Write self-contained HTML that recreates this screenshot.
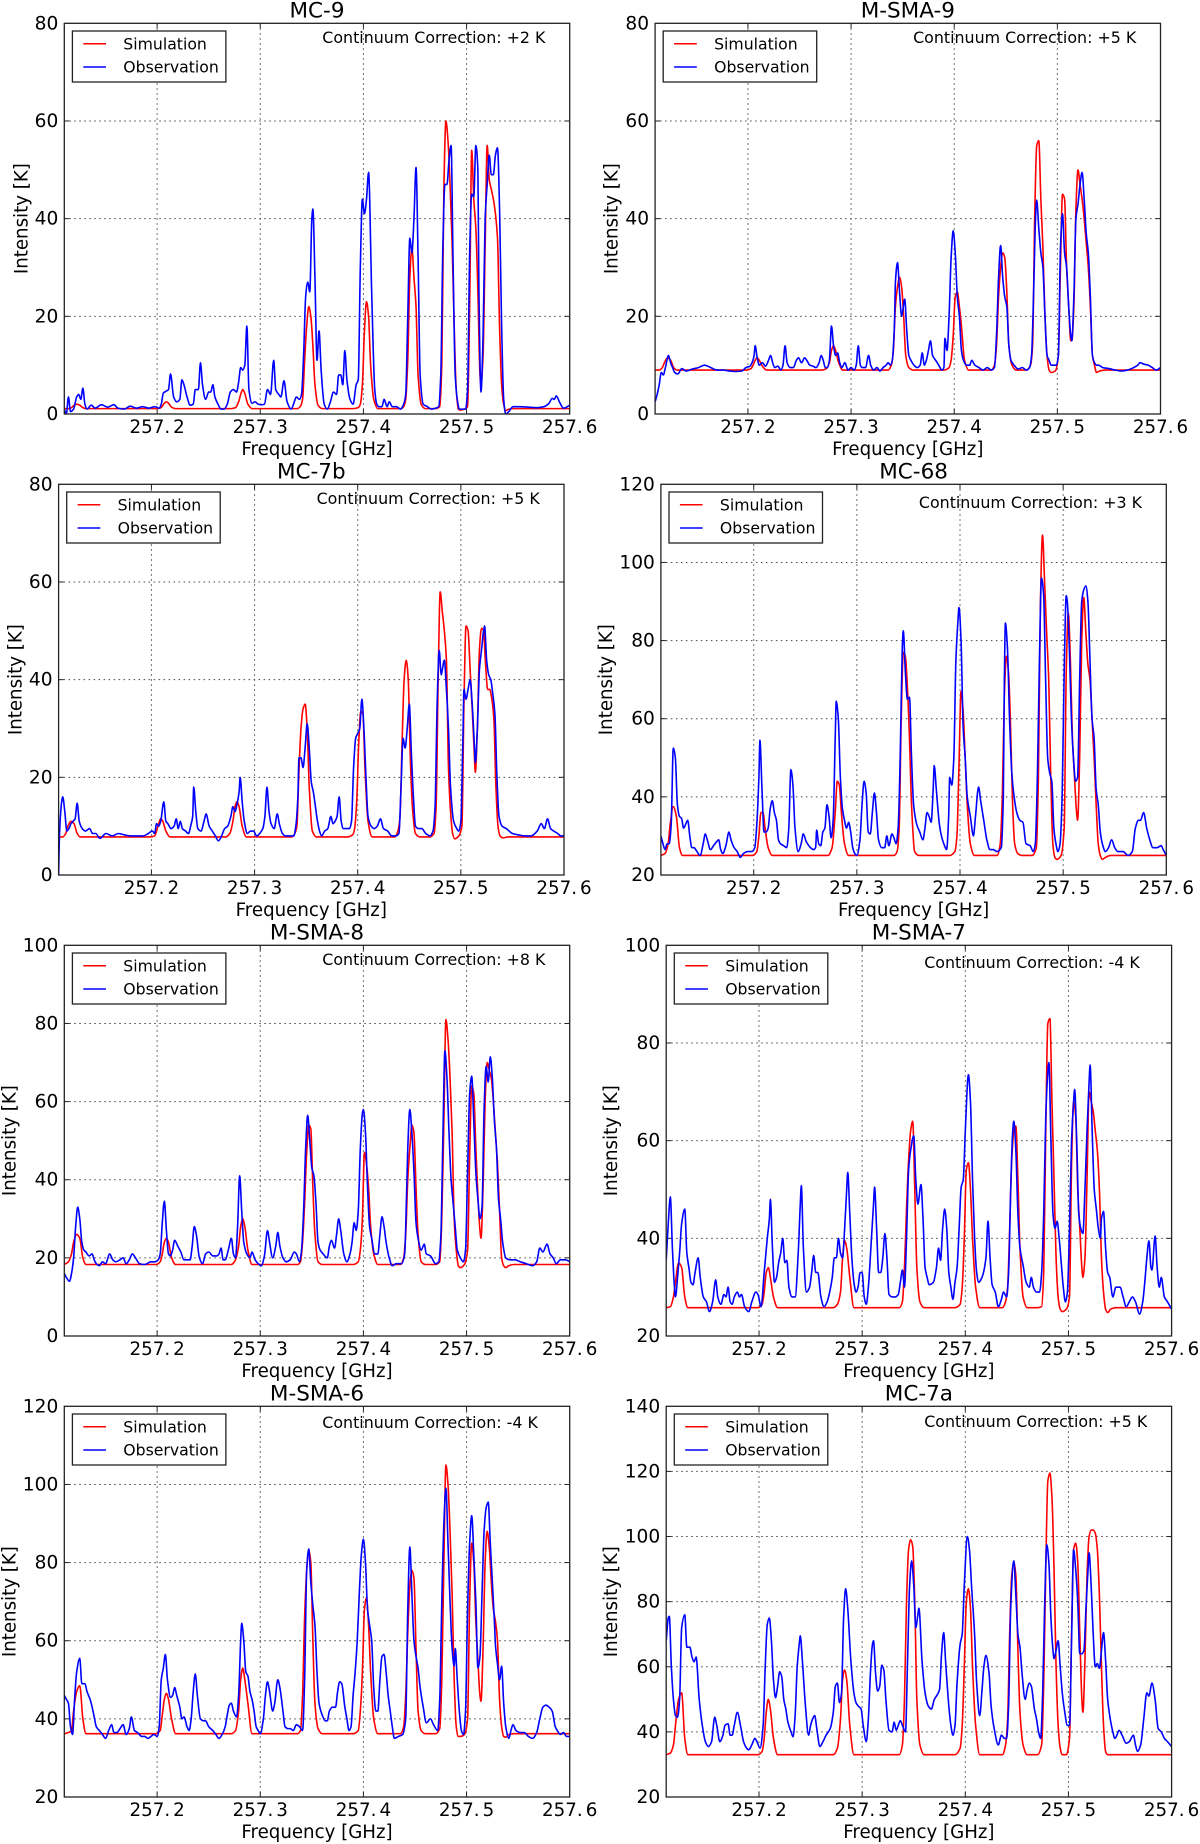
<!DOCTYPE html>
<html lang="en">
<head>
<meta charset="utf-8">
<title>Simulation and observation spectra</title>
<style>
html,body{margin:0;padding:0;background:#fff;}
svg{display:block;font-family:"DejaVu Sans","Liberation Sans",sans-serif;fill:#000;filter:blur(0.35px);}
</style>
</head>
<body>
<svg id="chart" xmlns="http://www.w3.org/2000/svg" width="1200" height="1844" viewBox="0 0 1200 1844"></svg>
<script>
// Frequencies are MHz above 257 GHz.
const xTicks=[257.2,257.3,257.4,257.5,257.6];
const panelTitles=["MC-9","M-SMA-9","MC-7b","MC-68","M-SMA-8","M-SMA-7","M-SMA-6","MC-7a"];
const corrections=["+2 K","+5 K","+5 K","+3 K","+8 K","-4 K","-4 K","+5 K"];
const yTicks1=[0,20,40,60,80];
const yTicks2=[0,20,40,60,80];
const yTicks3=[0,20,40,60,80];
const yTicks4=[20,40,60,80,100,120];
const yTicks5=[0,20,40,60,80,100];
const yTicks6=[20,40,60,80,100];
const yTicks7=[20,40,60,80,100,120];
const yTicks8=[20,40,60,80,100,120,140];

const simFreq=[
110,114,117,119,122,125,128,131,
199,203,205,207,209,211,214,218,
272,276,279,281,283,285,288,292,
336,339,341,343,345,347,349,351,353,356,360,
390,395,397,399,401,403,405,407,410,414,
436,439,441,443,445,447,449,451,453,456,460,
470,474,476,478,480,482,484,486,488,490,492,494,498,
501,503,505,507,509,511,513,514,516,518,520,522,524,526,528,530,532,534,536,538,541,546,600];

const sim1=[
1.1,1.1,1.3,1.7,2,1.8,1.3,1.1,
1.1,1.2,1.6,2.2,2.5,2.2,1.4,1.1,
1.1,1.3,2.5,4,5,4.2,2,1.1,
1.1,1.6,3,11,18,22,20,14,6,1.8,1.1,
1.1,1.3,2,6,17,23,20,10,3,1.1,
1.1,1.5,3,11,28,34,28,22,8,2,1.1,
1.1,1.5,10,46,60,56,47,35,18,5,1,0.8,1,
1.5,22,54,44,38,25,8,6,12,34,55,48,46,44,41,36,18,6,2,0.7,1,1.1,1.1];
const sim2=[
9,9,9.5,10.5,11.5,11,9.5,9,
9,9.3,10,11,11.5,11,9.8,9,
9,9.3,10.5,13,14,13,10.5,9,
9,10,13,22,26,28,26,20,12,9.5,9,
9,9.5,11,16,24,25,22,18,11,9,
9,10,14,24,30,33,32,25,14,10,9,
9,10,14,40,55,56,44,34,20,12,9,8.5,8.8,
12,30,45,44,30,22,15,15,22,42,50,47,44,40,35,30,22,12,10,8.5,8.8,9,9];
const sim3=[
7.8,7.8,8.5,10,11,10.5,8.5,7.8,
7.8,8,9,10.5,11.5,11,9,7.8,
7.8,8.5,11,14,15,14,10,7.8,
7.8,8.5,10,21,30,34,35,30,18,9,7.8,
7.8,8.2,9.5,15,27,33.5,33,22,11,7.8,
7.8,9,12,27,40,44,40,24,14,8.5,7.8,
7.8,8.5,14,40,58,54,50,44,22,13,8.5,7.4,8,
10,35,51,50,42,34,25,21,30,46,50.5,50,43,38,38,36,32,18,10,8,7.6,7.8,7.8];
const sim4=[
25,25.5,28,33,37.5,35,27,25,
25,26,30,36,36,32,27,25,
25,27,36,44,43,36,28,25,
25,26,32,60,77,76,68,55,38,26,25,
25,26,30,48,67,62,50,38,28,25,
25,28,40,66,76,72,58,38,28,25.5,25,
25,27,45,90,107,95,82,70,45,28,24.5,24,25,
32,72,87,75,55,45,36,34,50,80,91,82,74,70,60,50,38,28,25,24,24.5,25,25];
const sim5=[
18.3,19,21,24,26,25,20,18.3,
18.3,19,21,24,25,24,20,18.3,
18.3,19.5,23,28,30,28,22,18.3,
18.3,19,24,34,47,54,53,38,26,19,18.3,
18.3,19,22,30,47,44,38,28,21,18.3,
18.3,20,26,40,48,54,52,38,26,19,18.3,
18.3,19,30,55,81,76,66,52,30,22,18,17.5,18.3,
22,46,64,62,48,36,27,25,38,60,70,68,66,60,52,44,32,20,18,17.5,18,18.3,18.3];
const sim6=[
25.8,26,28,31,35,34,28,25.8,
25.8,26.5,29,33,34,32,28,25.8,
25.8,26.5,29,36,39.5,38,32,25.8,
25.8,27,34,46,56,62,64,50,34,27,25.8,
25.8,26.5,30,40,54,55.5,50,40,30,25.8,
25.8,27,30,42,56,62,63,52,38,28,25.8,
25.8,26,33,62,84,85,68,52,36,28,25.5,25,25.5,
28,55,68,65,50,42,34,32,36,52,70,68,66,62,58,50,36,29,25.5,24.8,25.5,25.8,25.8];
const sim7=[
36.2,36.5,37,42,47,48.5,40,36.2,
36.2,37,41,45,46.5,45,40,36.2,
36.2,37,42,50,53,50,44,36.2,
36.2,37,46,66,78,83,80,60,44,37.5,36.2,
36.2,37,42,52,68,71,64,52,40,36.2,
36.2,38,46,62,74,78,76,58,42,37,36.2,
36.2,37.5,50,80,105,100,88,72,50,38,35.5,35.5,36,
40,70,85,80,65,55,46,44.5,58,80,88,84,75,68,65,60,45,38,35.5,35.3,36,36.2,36.2];
const sim8=[
33,33.5,36,42,50,52,38,33,
33,34,38,46,50,47,38,33,
33,35,44,56,59,56,42,33,
33,36,50,80,96,99,97,80,50,36,33,
33,35,42,60,80,84,78,60,42,33,
33,36,44,70,88,92,88,65,46,36,33,
33,36,55,90,117,119.5,112,90,60,42,35,33,33,
38,70,96,98,92,70,50,46,62,88,100,102,102,101,96,82,60,42,34,33,33,33,33];

const obsFreq1=[
110,112,114,116,119,122,124,126,128,130,
132,136,140,146,152,158,162,168,174,180,
186,192,198,202,204,206,209,211,213,216,
219,222,224,226,229,232,235,237,240,242,
244,247,250,252,254,256,259,262,265,268,
271,274,277,279,281,283,285,287,289,292,
295,298,301,304,307,310,313,315,318,320,
323,326,330,333,335,338,340,342,344,346,
348,350,351,353,355,357,359,362,365,368,
371,374,376,378,380,382,384,387,390,393,
395,397,399,401,403,405,408,411,413,415,
418,420,423,425,428,432,436,439,441,443,
445,447,449,451,453,455,458,462,466,470,
473,475,477,479,481,483,485,487,489,491,
493,496,499,501,503,505,507,509,511,512,
514,516,518,520,522,524,526,528,530,532,
534,536,538,541,545,552,560,568,575,580,
583,585,587,590,594,600];
const obsVal1=[
1,0,3.5,0.5,1,3.5,4,3,5.3,2,
1,1.8,1.2,1.9,1.4,1.9,1.2,1,1.6,1.2,
1.5,1.2,1.5,1.2,2,4.3,4.7,5,8.2,3.5,
2.5,3,7,6,3.5,1.8,2,5,5,10.5,
6,3,4.5,4.5,6,3.5,2,1,1,2,
4.5,5,4.5,6.5,9.5,9,10,18,5,2.2,
2.5,2,1.9,2,5,4,11,5,4,3.5,
6.8,2.5,1,2.5,3.5,3,4,12,24,27,
25,40,42,28,11,17,9,2,1,2.5,
4.5,4,8,8,6,13,7,3,2,6,
7,30,44,41,44,49.5,25,5,2,1.5,
1.5,3,1.5,2.5,1.5,1.5,1,2,4,20,
36,33,40,50.5,32,8,2,1.5,1,1.2,
1.5,8,34,47,47,52,55,30,8,3,
1,1,1,5,33,45,44.5,55,50,25,
4.5,16,40,47,53,49,49,53,54.5,42,
18,3,0,0.5,1.5,1.5,1.4,1.3,1.5,2.2,
3.2,3,3.7,2.5,1.2,1.8];

const obsFreq2=[
110,112,114,116,118,120,123,125,127,129,
132,136,140,146,152,158,164,170,176,182,
188,194,198,202,204,206,207,209,211,214,
217,220,222,224,226,229,232,234,236,238,
241,244,247,249,252,255,257,260,263,266,
269,271,273,275,277,279,281,283,285,287,
289,291,294,297,300,303,305,307,309,311,
314,317,319,322,325,328,331,334,336,338,
340,342,343,345,347,349,350,352,354,356,
358,361,364,367,369,371,373,375,377,379,
382,385,388,390,391,393,395,397,399,401,
403,405,407,409,412,415,417,420,424,428,
432,436,439,441,443,445,447,449,451,453,
455,458,462,466,470,473,475,477,479,480,
482,484,486,488,490,492,494,497,499,501,
503,505,507,509,511,513,514,516,518,520,
522,524,526,528,530,532,534,536,538,540,
544,550,556,562,568,574,578,580,584,588,
592,596,600];
const obsVal2=[
2.5,4,6,8.5,8,9.5,12,10.5,9.5,8.5,
8.2,9.3,8.8,9.2,9.5,10,9.5,9,9,8.8,
8.7,8.8,9.5,9.8,10.5,12,14,11.5,10,10.5,
9.8,11,12,10.5,9.5,9.8,9,10,14,10.5,
9.5,9.5,11,11.5,10.5,11.5,11,10,9.8,9.5,
10.5,12,11,9.5,9.5,11,18,14,12,12.5,
10.5,9.5,10.5,9,9.5,9,10,14,10,9.5,
9.5,12,10,9,9.5,8.8,9.5,10,10.5,10,
11,18,27,31,25,20,21,23.5,17,12,
11,10,9.5,10,12.5,10,11,13,15,12,
11,10,9,9.5,15.5,13,20,32,37.5,33,
24,20,13,11,10,10,11,10,9.5,9,
9.5,9,9.5,16,28,34.5,28,24,22,14,
11,10,9.2,9.5,9,9.5,12,25,41,43.8,
38,33,30,20,12,11,10,10,10,12,
34,41,33,30,22,16,15,24,40,43,
47,49.5,44,37,33,24,12,10.5,10,10,
9.5,9.3,9,8.8,9,9.5,10,10.5,10.2,10,
9.5,9,9.5];

const obsFreq3=[
110,111,113,114,116,118,120,122,124,126,
128,130,133,136,140,143,146,150,156,162,
168,174,180,186,192,197,201,203,205,207,
209,212,214,216,219,222,224,226,228,230,
233,236,238,240,241,243,245,248,251,253,
256,259,262,265,268,271,274,277,279,281,
283,285,286,288,290,293,296,299,302,305,
308,310,312,314,316,319,322,324,327,330,
334,338,340,342,343,345,347,349,351,353,
355,357,359,361,363,365,368,371,374,376,
378,380,382,384,386,389,392,394,396,398,
400,402,404,406,408,410,413,416,419,422,
425,429,433,437,440,442,444,446,448,450,
452,454,456,459,462,466,470,473,475,477,
479,481,482,484,486,488,490,493,496,498,
500,502,503,505,507,509,511,513,514,516,
518,520,522,523,525,527,529,531,533,535,
537,540,544,550,556,562,568,574,578,581,
584,587,590,594,597,600];
const obsVal3=[
0,9,15,16,13,9,9.5,10.5,11,11.5,
14.7,11,9.5,9,9.5,8.5,8.5,7.5,8.5,8,
8.5,8.2,8,8,8,8.5,9,8.5,10.5,10,
11,15,11,10.5,9.5,10,11.5,9.5,11,9.5,
9,8.5,10,12,18,13,9.5,9,11,12.5,
10,9,8,7,8,9.5,10,12,14,13,
14.5,17,20,15,11,8.5,9,9,8,8.5,
9.5,12,18,13,10.5,9.5,12.5,10.5,8.5,8,
8,8,10,16,24,24,22,26,31,26,
19,17,14,11,9,8,9,9.5,12,10.5,
11,12,16,11,9.5,9.5,9.5,11,22,28,
29,30,36,30,20,12,10,9.5,10,11.5,
9.5,9,8,8,8.5,18,28,26,30,35,
25,16,10,9.5,9.5,8.5,8,9,14,35,
46,41,42,44,38,30,18,11,9.5,9,
11,28,38,36,38,40,35,27,23,30,
42,46,50,51,44,41,40,37,33,20,
12,10,9.5,8.5,8.2,8,8,9,10.5,9.5,
11.5,9.5,9,8.5,8,8];

const obsFreq4=[
110,112,114,116,118,120,122,124,126,128,
130,132,134,136,138,140,142,145,148,151,
153,155,158,161,164,166,168,170,173,176,
178,181,184,187,190,194,198,201,203,205,
206,208,210,212,214,216,218,220,222,224,
226,229,232,234,236,238,240,243,246,248,
251,255,258,260,261,263,265,267,269,271,
273,275,277,279,280,282,284,286,288,290,
292,294,296,298,300,303,305,307,309,311,
313,315,317,319,321,324,327,329,331,334,
336,338,340,342,344,345,347,349,351,353,
355,358,361,364,366,368,370,372,374,375,
377,380,382,385,387,389,390,392,394,396,
398,399,401,403,405,407,410,413,415,418,
420,423,426,429,432,436,440,442,443,444,
446,448,450,452,455,458,461,464,468,471,
473,475,477,479,481,483,485,487,489,491,
493,495,497,499,501,503,504,506,508,510,
512,514,516,518,520,522,524,526,528,530,
532,534,536,538,541,544,547,550,553,558,
563,567,570,573,575,578,581,584,587,591,
595,597,600];
const obsVal4=[
30,28,26.5,28,28,33,52.5,50,38,35,
34.5,32,33,34,30,27,27,26,25,28,
30.5,29,26.5,27.5,28.5,29,26.5,25.5,27.5,31,
29,27,26,24.5,25.5,26,26,27,33,45,
54.5,42,31,31,32,37,39,36,34,29,
28,27.5,27,32,47,43,32,26,28,30.5,
28.5,27,26.5,27,31.5,28,27.5,31,32,38,
35,29.5,34,55,64.5,60,45,37,34,32,
33.5,31,27,25.5,25,29,38,44,41,31,
30.5,36,41,36,29,27,27,30,27.5,30.5,
29.5,28,32,50,78,82.5,72,65,65.5,50,
38,33,31,29,32,36,35,33.5,42,48,
42,33,30,27.5,26.5,35,45,43,50,75,
85,88.5,80,58,50,40,35,30,35,42.5,
39,34,29,26.5,26.5,26,27,40,70,84.5,
78,60,47,41,36,34,33.5,28,27.5,26,
28,45,75,96,92,70,50,46,44,32,
28,26,28,40,72,91.5,90,78,60,50,
44,45,70,90,93,94,90,75,60,55,
42,38,31,28,26,27,29,27,26,26,
25,26,32,34,34,36,32,29,27,27,
27.5,26.5,25];

const obsFreq5=[
110,112,115,117,119,121,123,125,127,129,
131,134,137,139,141,144,147,150,154,157,
160,164,167,170,173,176,179,183,188,194,
198,201,203,205,207,209,211,213,215,217,
220,223,226,229,232,234,236,238,241,244,
247,250,254,258,260,262,264,266,269,272,
274,276,278,280,282,284,287,290,292,295,
298,301,304,307,309,312,315,317,319,322,
325,329,333,335,338,340,342,344,346,348,
350,352,354,356,358,361,365,367,369,372,
374,376,378,381,384,387,389,391,393,395,
397,399,400,402,404,406,408,411,414,416,
418,420,422,425,428,432,437,440,442,443,
445,447,449,451,453,456,459,461,465,470,
473,475,477,479,481,483,485,487,489,491,
494,497,499,501,503,505,507,509,511,513,
515,517,519,521,523,525,527,529,531,533,
535,538,542,547,552,558,564,568,571,574,
578,581,584,587,591,596,600];
const obsVal5=[
16,15,14,16,20,28,33,30,24,22,
21.5,20.5,21,19.5,18.5,18,19,18.5,21,19.5,
19,19.5,20,18.5,19.5,21,20,18.5,18.3,19,
19,19.5,21,29,34.5,27,21,20.5,22,24.5,
23,21.5,19.5,19.5,19.5,23,28,26,20,18.5,
21,21.5,20.5,20.5,21,22.5,19.5,19.5,22,25,
21,20,28,41,32,24,21,20,21.5,19.5,
18.5,18,20.5,27,24,20,23,26.5,23,20,
19,19.5,21.5,21,19,22,32,48,56.5,50,
43,41,34,24,22,21,20,23,24.5,22.5,
26,30,27,21,19,21,24,29,27,32,
48,57,58,52,38,28,25,21,21,26,
30.5,28,24,20,18,18.5,18.5,21,38,48,
58,52,42,29,25,22,23.5,21,20.5,18.5,
19,25,50,73,66,52,40,34,28,22,
20,19,22,42,62,66.5,55,42,35,30,
33,58,69,65,71.5,66,55,48,35,30,
24,20,19.5,19.5,19,18.5,18,19,22.5,21.5,
23.5,21,20,18.5,19.5,19.5,19];

const obsFreq6=[
110,112,114,116,118,119,121,123,125,128,
130,132,134,136,138,141,143,146,149,152,
155,158,160,163,166,168,170,172,174,176,
179,181,183,186,190,193,197,199,202,205,
208,210,211,213,215,217,219,221,223,225,
227,229,232,235,238,240,241,243,246,249,
251,253,255,257,260,263,266,269,271,273,
275,277,279,281,283,285,286,288,290,292,
294,296,298,300,302,304,306,309,311,312,
314,316,318,320,322,324,326,329,332,335,
337,339,341,343,345,347,350,352,354,357,
359,361,363,365,369,372,374,376,378,380,
382,384,386,388,390,392,394,396,398,400,
403,405,407,409,411,413,415,417,420,422,
424,426,429,432,435,437,440,442,444,446,
447,449,451,453,456,459,462,464,466,469,
472,474,476,478,480,481,483,485,487,489,
491,493,495,497,499,501,503,505,506,508,
510,512,514,516,518,520,521,523,525,527,
529,531,532,534,536,538,540,543,546,550,
553,556,559,562,565,569,572,574,576,578,
580,581,584,586,588,590,593,596,600];
const obsVal6=[
35.6,43,48.5,38,30,28,32,37,43,46,
37,34,31,30.5,33,36,32,28,27,25,
27,31.5,28,26.5,28.5,28,30,27,26.5,28,
29,28,28.5,26,25,27,29,28.5,26,33,
40,44,48,38,31,32,35,37,40,35,
35.5,30,28,28,37,47,50.8,38,29,30,
33,36.5,33,33,28,26,27,29.5,32,36,
36,40,37,36,42,50,53.5,45,36,31,
29,30,33,33,28,26.5,30,40,47,50.5,
42,33,33,36,41,36,28.5,28,28,28.5,
31,33.5,30,40,54,58,61,52,47,51,
44,34,32,30.5,31,34,38,35.5,42,46,
42,33,30,27.5,31,34,42,50.5,52,62,
73.5,68,52,40,33,31,31.5,32.5,36,43.5,
36,30.5,29,26,27.5,29,28,33,50,62,
64,58,45,38,34.5,31,30,32,30,29,
29,33,45,65,74,76,60,45,42,43.5,
40,35,30,27,29,42,60,68,70.5,60,
45,42,41,50,62,72,75.5,62,50,46,
42,40,44,45.5,38,33,32,28,30,30,
28,26,27,28,27,24.5,27,31,36,39.5,
34,33.5,40.5,34,30,32,28,27,25.5];

const obsFreq7=[
110,112,114,116,118,120,122,125,127,130,
132,135,137,139,141,144,147,150,153,156,
158,161,164,167,170,173,175,178,181,185,
188,191,194,197,200,202,204,206,208,210,
213,215,217,219,222,224,226,229,231,233,
235,237,239,242,245,247,250,254,257,260,
263,266,268,270,272,274,277,279,281,282,
284,286,288,290,292,294,296,298,300,303,
305,307,309,312,314,317,319,322,324,327,
329,332,335,338,341,343,345,347,349,351,
353,355,357,360,363,365,367,370,373,375,
377,379,382,384,386,388,390,392,394,396,
398,400,402,404,406,408,410,412,414,416,
418,420,422,424,426,428,430,434,438,441,
443,445,447,449,451,453,455,458,461,465,
468,472,474,476,478,480,482,484,486,488,
489,491,493,495,497,499,501,503,505,507,
509,511,513,515,517,519,521,523,525,527,
528,530,532,534,536,538,541,543,545,548,
552,556,560,564,568,571,574,577,580,583,
586,588,591,594,597,600];
const obsVal7=[
46,45,44,38,36,45,52,55.5,49,49,
47,45,43,40.5,38,37,36,35,37,38.5,
36.5,36.5,37.5,38.5,36,37.5,40.5,37,36.5,35.5,
35.5,35,35.5,36,35.5,38,50,53,56.5,50,
45.5,46,48,46,43,40,40.5,38,37,40,
47,51.5,46,40,39.5,39.5,38,37,36,35,
36,38,41,43.5,44,42,40.5,46,60,64.5,
60,52,51,47,45,42,38,37,36.2,40,
46,49.5,47,42,44,50,48,42,38,37.5,
37.5,37,38.5,38,37,50,78,83.5,75,69,
64,52,44,41,39.5,39.5,42,43,43,47,
49.5,49,43,40,37,38,46,52,60,72,
82,86,80,68,64,60,48,42,42,50,
56,56.5,52,46,42,38,35,35.5,36,40,
68,84,72,60,56,53,48,43,39,40,
38.5,37,45,70,90,99,85,70,58,53.5,
58,50,42,37,36,42,68,85,92,82,
70,53,56,72,88,94,95.5,85,75,65,
59,54,50,53.5,44,38,35,37,38.5,37,
36.5,36.5,35.5,35,36.5,40,43,43.5,43,42,
38,37,36,36.5,35.5,35.5];

const obsFreq8=[
110,112,113,115,117,119,121,123,125,128,
130,133,135,137,139,142,145,148,151,154,
157,159,162,165,167,170,172,174,176,179,
182,185,188,190,193,196,198,201,204,206,
208,210,212,214,216,218,220,222,224,226,
228,231,233,235,237,239,240,242,245,248,
250,252,254,256,259,262,265,269,272,274,
276,278,280,282,284,286,289,292,294,296,
299,301,304,306,308,310,311,313,315,317,
319,321,323,326,329,331,333,335,337,339,
342,344,346,348,350,352,354,355,358,361,
364,367,370,372,375,377,379,381,384,386,
388,390,392,395,397,399,402,404,406,409,
411,414,416,418,420,423,425,428,432,435,
438,440,442,444,447,449,451,453,455,458,
460,462,464,467,469,471,473,475,477,479,
481,483,485,486,488,490,492,494,496,499,
501,503,505,507,509,511,513,515,517,519,
520,522,524,526,528,530,532,534,536,538,
540,543,545,547,549,552,556,559,563,565,
567,570,573,576,578,581,584,587,590,593,
596,600];
const obsVal8=[
68,75,75.5,60,50,45,44.5,50,72,76,
66,66,63,61.5,63,50,42,37,35.5,37,
44.5,42,37,39,42,42.5,39,39,42,46,
42,37,35,34.5,36,38,37,35,42,60,
73,75,68,56,50.5,54,58.5,57,50,47,
43,40,38.5,45,60,67,69.5,62,48,39,
42,44,45,41,35.5,37,39,41,46,54,
55,49,52,75,84,78,62,52,49,48,
47,42,37,44,58,67,68,58,52.5,54,
60.5,59,50,40.5,40,43,40.5,42,43.5,42,
40,62,85,92.5,85,72,76,78,62,52,
48,47,50,51,53,64,70.5,61,48,42,
39,42,55,67,70,85,100,96,85,70,
55,45,52,60,63.5,58,48,41,36,39,
38,38,48,78,92.5,82,70,66,58,50,
53,55,54,47,44,40,38,52,80,97.5,
92,75,65,62.5,65,68,60,52,47,42,
42,68,96,90,80,64,64,65,78,90,
95,85,70,60,61,59.5,65,70.5,62,50,
45,40,38,39,40.5,39,36.5,37,39,36,
34,36,44,52,51,55,50,41,40,38,
37,35.5];

const svgNS="http://www.w3.org/2000/svg";
const root=document.getElementById("chart");
const PLOT_W=505.4, PLOT_H=390.7, XMIN=257.11, XMAX=257.6;

function make(parent,tag,attrs,text){
  const el=document.createElementNS(svgNS,tag);
  for(const k in attrs){el.setAttribute(k,attrs[k]);}
  if(text!==undefined){el.textContent=text;}
  parent.appendChild(el);
  return el;
}
function xAxis(left){
  return function(ghz){return left+(ghz-XMIN)/(XMAX-XMIN)*PLOT_W;};
}
function yAxis(top,ymin,ymax){
  return function(v){return top+PLOT_H-(v-ymin)/(ymax-ymin)*PLOT_H;};
}
// Monotone cubic path through every data vertex, so peaks stay at their read values.
function pathFrom(freqs,vals,sx,sy){
  const n=Math.min(freqs.length,vals.length);
  const xs=[],ys=[];
  for(let i=0;i<n;i++){xs.push(sx(257+freqs[i]/1000));ys.push(sy(vals[i]));}
  const slopes=[];
  for(let i=0;i<n-1;i++){slopes.push((ys[i+1]-ys[i])/(xs[i+1]-xs[i]));}
  const m=[];
  for(let i=0;i<n;i++){
    if(i===0){m.push(slopes[0]);}
    else if(i===n-1){m.push(slopes[n-2]);}
    else if(slopes[i-1]*slopes[i]<=0){m.push(0);}
    else{m.push(2*slopes[i-1]*slopes[i]/(slopes[i-1]+slopes[i]));}
  }
  let d="M"+xs[0].toFixed(2)+" "+ys[0].toFixed(2);
  for(let i=0;i<n-1;i++){
    const h=(xs[i+1]-xs[i])/3;
    d+="C"+(xs[i]+h).toFixed(2)+" "+(ys[i]+m[i]*h).toFixed(2)+" "+(xs[i+1]-h).toFixed(2)+" "+(ys[i+1]-m[i+1]*h).toFixed(2)+" "+xs[i+1].toFixed(2)+" "+ys[i+1].toFixed(2);
  }
  return d;
}

const layouts=[
 {left:64.3,top:23.3,ylabelGap:43,noteGap:19.5},
 {left:655.1,top:23.3,ylabelGap:43.6,noteGap:19.5},
 {left:58.6,top:484.3,ylabelGap:43.3,noteGap:19.8},
 {left:660.9,top:484.3,ylabelGap:55,noteGap:23.8},
 {left:64.3,top:945.3,ylabelGap:55,noteGap:19.8},
 {left:666.2,top:945.3,ylabelGap:55,noteGap:22.5},
 {left:64.3,top:1406.3,ylabelGap:55,noteGap:21.5},
 {left:666.2,top:1406.3,ylabelGap:55,noteGap:20.8}
];
const yTickSets=[yTicks1,yTicks2,yTicks3,yTicks4,yTicks5,yTicks6,yTicks7,yTicks8];
const simSets=[sim1,sim2,sim3,sim4,sim5,sim6,sim7,sim8];
const obsFreqSets=[obsFreq1,obsFreq2,obsFreq3,obsFreq4,obsFreq5,obsFreq6,obsFreq7,obsFreq8];
const obsValSets=[obsVal1,obsVal2,obsVal3,obsVal4,obsVal5,obsVal6,obsVal7,obsVal8];

const defs=make(root,"defs",{});

layouts.forEach(function(L,p){
  const ticks=yTickSets[p];
  const ymin=ticks[0], ymax=ticks[ticks.length-1];
  const sx=xAxis(L.left), sy=yAxis(L.top,ymin,ymax);
  const right=L.left+PLOT_W, bottom=L.top+PLOT_H;
  const slug=panelTitles[p].toLowerCase();

  const g=make(root,"g",{});
  
  

  const clip=make(defs,"clipPath",{id:"clip"+p});
  make(clip,"rect",{x:L.left,y:L.top,width:PLOT_W,height:PLOT_H});

  const title=make(g,"text",{x:L.left+PLOT_W/2,y:L.top-6,"text-anchor":"middle","font-size":"21.5"},panelTitles[p]);
  
  

  // grid and ticks
  xTicks.forEach(function(t){
    const x=sx(t);
    if(t<XMAX){
      const gl=make(g,"line",{x1:x,x2:x,y1:L.top,y2:bottom,stroke:"#444","stroke-width":"1","stroke-dasharray":"1.5 3.5"});
      
      
      const m1=make(g,"line",{x1:x,x2:x,y1:bottom,y2:bottom-5,stroke:"#222","stroke-width":"1"});
      
      
      const m2=make(g,"line",{x1:x,x2:x,y1:L.top,y2:L.top+5,stroke:"#222","stroke-width":"1"});
      
      
    }
    const parts=t.toFixed(1).split(".");
    const lab=make(g,"text",{x:x,y:bottom+19,"text-anchor":"middle","font-size":"18.3"},parts[0]+".");
    make(lab,"tspan",{dx:"3"},parts[1]);
    
    
  });
  ticks.forEach(function(t){
    const y=sy(t);
    if(t>ymin&&t<ymax){
      const gl=make(g,"line",{x1:L.left,x2:right,y1:y,y2:y,stroke:"#444","stroke-width":"1","stroke-dasharray":"1.5 3.5"});
      
      
      const m1=make(g,"line",{x1:L.left,x2:L.left+5,y1:y,y2:y,stroke:"#222","stroke-width":"1"});
      
      
      const m2=make(g,"line",{x1:right,x2:right-5,y1:y,y2:y,stroke:"#222","stroke-width":"1"});
      
      
    }
    const lab=make(g,"text",{x:L.left-6,y:y+6,"text-anchor":"end","font-size":"18.6"},String(t));
    
    
  });

  // series
  const simLine=make(g,"path",{d:pathFrom(simFreq,simSets[p],sx,sy),fill:"none",stroke:"#f00","stroke-width":"1.6","stroke-linejoin":"round","clip-path":"url(#clip"+p+")"});
  
  
  const obsLine=make(g,"path",{d:pathFrom(obsFreqSets[p],obsValSets[p],sx,sy),fill:"none",stroke:"#00f","stroke-width":"1.6","stroke-linejoin":"round","clip-path":"url(#clip"+p+")"});
  
  

  // frame
  const frame=make(g,"rect",{x:L.left,y:L.top,width:PLOT_W,height:PLOT_H,fill:"none",stroke:"#222","stroke-width":"1.3"});
  
  

  // axis titles
  const xt=make(g,"text",{x:L.left+PLOT_W/2,y:bottom+41,"text-anchor":"middle","font-size":"18.2"},"Frequency [GHz]");
  
  
  const yx=L.left-L.ylabelGap+6, yy=L.top+PLOT_H/2;
  const yt=make(g,"text",{x:yx,y:yy,"text-anchor":"middle","font-size":"18.2",transform:"rotate(-90 "+yx+" "+yy+")"},"Intensity [K]");
  
  

  // annotation
  const note=make(g,"text",{x:L.left+258,y:L.top+L.noteGap,"font-size":"15.85"},"Continuum Correction: "+corrections[p]);
  
  

  // legend
  const lg=make(g,"g",{});
  
  
  const box=make(lg,"rect",{x:L.left+8.1,y:L.top+7.7,width:153.5,height:51,fill:"#fff",stroke:"#222","stroke-width":"1.3"});
  
  
  const h1=make(lg,"line",{x1:L.left+19,x2:L.left+41.7,y1:L.top+20.4,y2:L.top+20.4,stroke:"#f00","stroke-width":"1.5"});
  
  
  const t1=make(lg,"text",{x:L.left+59,y:L.top+26,"font-size":"15.7"},"Simulation");
  
  
  const h2=make(lg,"line",{x1:L.left+19,x2:L.left+41.7,y1:L.top+43.7,y2:L.top+43.7,stroke:"#00f","stroke-width":"1.5"});
  
  
  const t2=make(lg,"text",{x:L.left+59,y:L.top+49.4,"font-size":"15.7"},"Observation");
  
  
});
</script>
</body>
</html>
